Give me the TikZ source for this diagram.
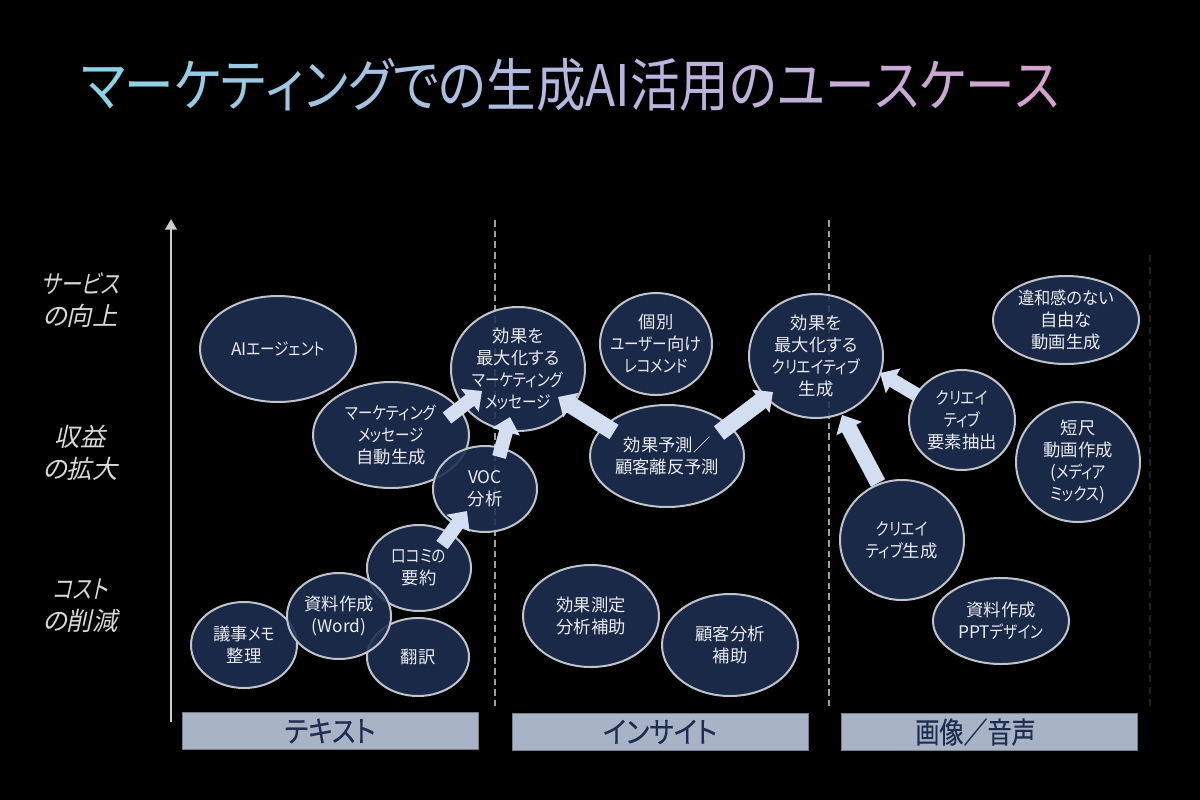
\documentclass[tikz,border=0pt]{standalone}
\usepackage{fontspec}
\usetikzlibrary{shapes.geometric,arrows.meta,calc}
\setmainfont{Noto Sans CJK JP}[RawFeature=+palt]
\newfontfamily\ttlfont{Noto Sans CJK JP}[RawFeature=+palt,FakeStretch=0.865]
\newfontfamily\knfont{Noto Sans CJK JP}[RawFeature=+palt,FakeStretch=0.84]
\newfontfamily\midfont{Noto Sans CJK JP}[RawFeature=+palt,FakeStretch=0.94]
\newfontfamily\capfont{Noto Sans CJK JP}[RawFeature=+palt,FakeStretch=0.82,FakeBold=0.35]
\newfontfamily\capwide{Noto Sans CJK JP}[RawFeature=+palt,FakeStretch=0.89,FakeBold=0.35]
\newfontfamily\axfont{Noto Sans CJK JP}[RawFeature=+palt,FakeSlant=0.22]
\newfontfamily\axkn{Noto Sans CJK JP}[RawFeature=+palt,FakeSlant=0.22,FakeStretch=0.82]
\newcommand\K[1]{{\knfont #1}}
\newcommand\M[1]{{\midfont #1}}
\newcommand\AK[1]{{\axkn #1}}
\definecolor{bgblack}{HTML}{000000}
\definecolor{bubfill}{HTML}{1E2F52}
\definecolor{bubline}{HTML}{BFC4CA}
\definecolor{bubtext}{HTML}{E8EAEE}
\definecolor{blockc}{HTML}{D3DEF0}
\definecolor{capfill}{HTML}{A9B3C6}
\definecolor{captext}{HTML}{1E2D50}
\definecolor{axistext}{HTML}{D8D8D8}
\definecolor{tA}{HTML}{8CD2E6}
\definecolor{tB}{HTML}{B8B6E0}
\definecolor{tC}{HTML}{D4A2CC}
\newcommand\ca[2]{\textcolor{tB!#1!tA}{#2}}
\newcommand\cb[2]{\textcolor{tC!#1!tB}{#2}}
\tikzset{
  x=0.75pt,y=-0.75pt,
  bub/.style 2 args={ellipse,minimum width=#1*1.5pt,minimum height=#2*1.5pt,inner sep=-9pt,outer sep=0pt,
    draw=bubline,line width=1.5pt,fill=bubfill,fill opacity=.88,draw opacity=1,text opacity=1,
    text=bubtext,font=\fontsize{13}{16.5}\selectfont,align=center},
  blockarrow/.style={draw=blockc,line width=#1*0.75pt,-{Triangle[length=11.5pt,width=21pt,fill=blockc]}},
  blockarrow/.default=14,
  divider/.style={draw=white!62!black,line width=0.9pt,dash pattern=on 5pt off 3pt},
  faintdiv/.style={draw=white!12!black,line width=0.8pt,dash pattern=on 5pt off 4pt},
  capbox/.style={rectangle,minimum width=296*0.75pt,minimum height=37*0.75pt,inner sep=0pt,outer sep=0pt,
    fill=capfill,draw=capfill!70!black,line width=.4pt,text=captext,font=\capfont\fontsize{22}{24}\selectfont},
  axlabel/.style={text=axistext,font=\axfont\fontsize{19}{24}\selectfont,align=center,inner sep=0pt},
}
\begin{document}
\begin{tikzpicture}
\useasboundingbox (0,0) rectangle (1200,800);
\fill[bgblack] (0,0) rectangle (1200,800);
% title
\node[inner sep=0pt,font=\ttlfont\fontsize{43}{46}\selectfont] (title) at (570,85)
 {\ca{0}{マ}\ca{9}{ー}\ca{18}{ケ}\ca{27}{テ}\ca{36}{ィ}\ca{45}{ン}\ca{54}{グ}\ca{63}{で}\ca{72}{の}\ca{81}{生}\ca{90}{成}\ca{95}{A}\ca{100}{I}\cb{8}{活}\cb{16}{用}\cb{25}{の}\cb{35}{ユ}\cb{45}{ー}\cb{58}{ス}\cb{70}{ケ}\cb{85}{ー}\cb{100}{ス}};
% axis
\coordinate (axbot) at (171,722);
\coordinate (axtop) at (171,219);
\draw[draw=white!80!black,line width=2.2pt,-{Triangle[length=8pt,width=8.5pt]}] (axbot) -- (axtop);
% dividers
\coordinate (d1t) at (495,220); \coordinate (d1b) at (495,706);
\coordinate (d2t) at (829,220); \coordinate (d2b) at (829,706);
\coordinate (d3t) at (1150,255); \coordinate (d3b) at (1150,706);
\draw[divider] (d1t) -- (d1b);
\draw[divider] (d2t) -- (d2b);
\draw[faintdiv] (d3t) -- (d3b);
% axis labels
\node[axlabel] (l1) at (80,300) {\AK{サービス}\\の向上};
\node[axlabel] (l2) at (80,453) {収益\\の拡大};
\node[axlabel] (l3) at (80,606) {\AK{コスト}\\の削減};
% bubbles
\node[bub={78}{53}] (agent) at (278,349) {AI\K{エージェント}};
\node[bub={78}{53}] (mk) at (391,435) {\K{マーケティング}\\\K{メッセージ}\\自動生成};
\node[bub={67}{62}] (eff1) at (518,369) {効果を\\最大化する\\\K{マーケティング}\\\K{メッセージ}};
\node[bub={52}{43}] (voc) at (485,489) {VOC\\分析};
\node[bub={52}{43}] (kuchi) at (419,568) {\K{口コミの}\\要約};
\node[bub={53}{43}] (gijiroku) at (244,645) {議事\K{メモ}\\整理};
\node[bub={51}{39}] (honyaku) at (418,657) {翻訳};
\node[bub={52}{43}] (word) at (339,616) {資料作成\\(Word)};
\node[bub={56}{51}] (kobetsu) at (656,344) {個別\\\K{ユーザー}向け\\\K{レコメンド}};
\node[bub={77}{51}] (yosoku) at (667,456) {効果予測／\\顧客離反予測};
\node[bub={68}{51}] (sokutei) at (591,616) {効果測定\\分析補助};
\node[bub={68}{51}] (kokyaku) at (730,645) {顧客分析\\補助};
\node[bub={67}{62}] (eff2) at (816,356) {効果を\\最大化する\\\K{クリエイティブ}\\生成};
\node[bub={53}{50}] (yoso) at (962,420) {\K{クリエイ}\\\K{ティブ}\\要素抽出};
\node[bub={73}{44}] (iwakan) at (1066,320) {\M{違和感のない}\\自由な\\動画生成};
\node[bub={62}{60}] (tanjaku) at (1078,462) {短尺\\動画作成\\(\K{メディア}\\\K{ミックス})};
\node[bub={62}{60}] (cre) at (902,540) {\K{クリエイ}\\\K{ティブ}生成};
\node[bub={68}{43}] (ppt) at (1001,621) {資料作成\\PPT\K{デザイン}};
% block arrows
\draw[blockarrow] ($(mk)+(56,-17)$) -- ($(eff1)+(-36,22)$);
\draw[blockarrow] ($(voc)+(14,-32)$) -- ($(eff1)+(-8,48)$);
\draw[blockarrow] ($(kuchi)+(23,-23)$) -- ($(voc)+(-18,22)$);
\draw[blockarrow=17] ($(yosoku)+(-53,-24)$) -- ($(eff1)+(40,28)$);
\draw[blockarrow=17] ($(yosoku)+(52,-23)$) -- ($(eff2)+(-43,36)$);
\draw[blockarrow] ($(yoso)+(-45,-25)$) -- ($(eff2)+(64,17)$);
\draw[blockarrow=16] ($(cre)+(-24,-57)$) -- ($(eff2)+(26,59)$);
% captions
\node[capbox] (c1) at (330,731) {{\capwide テキスト}};
\node[capbox] (c2) at (660,732) {{\capwide インサイト}};
\node[capbox] (c3) at (989.5,732) {画像／音声\hspace*{21pt}};
\end{tikzpicture}
\end{document}
